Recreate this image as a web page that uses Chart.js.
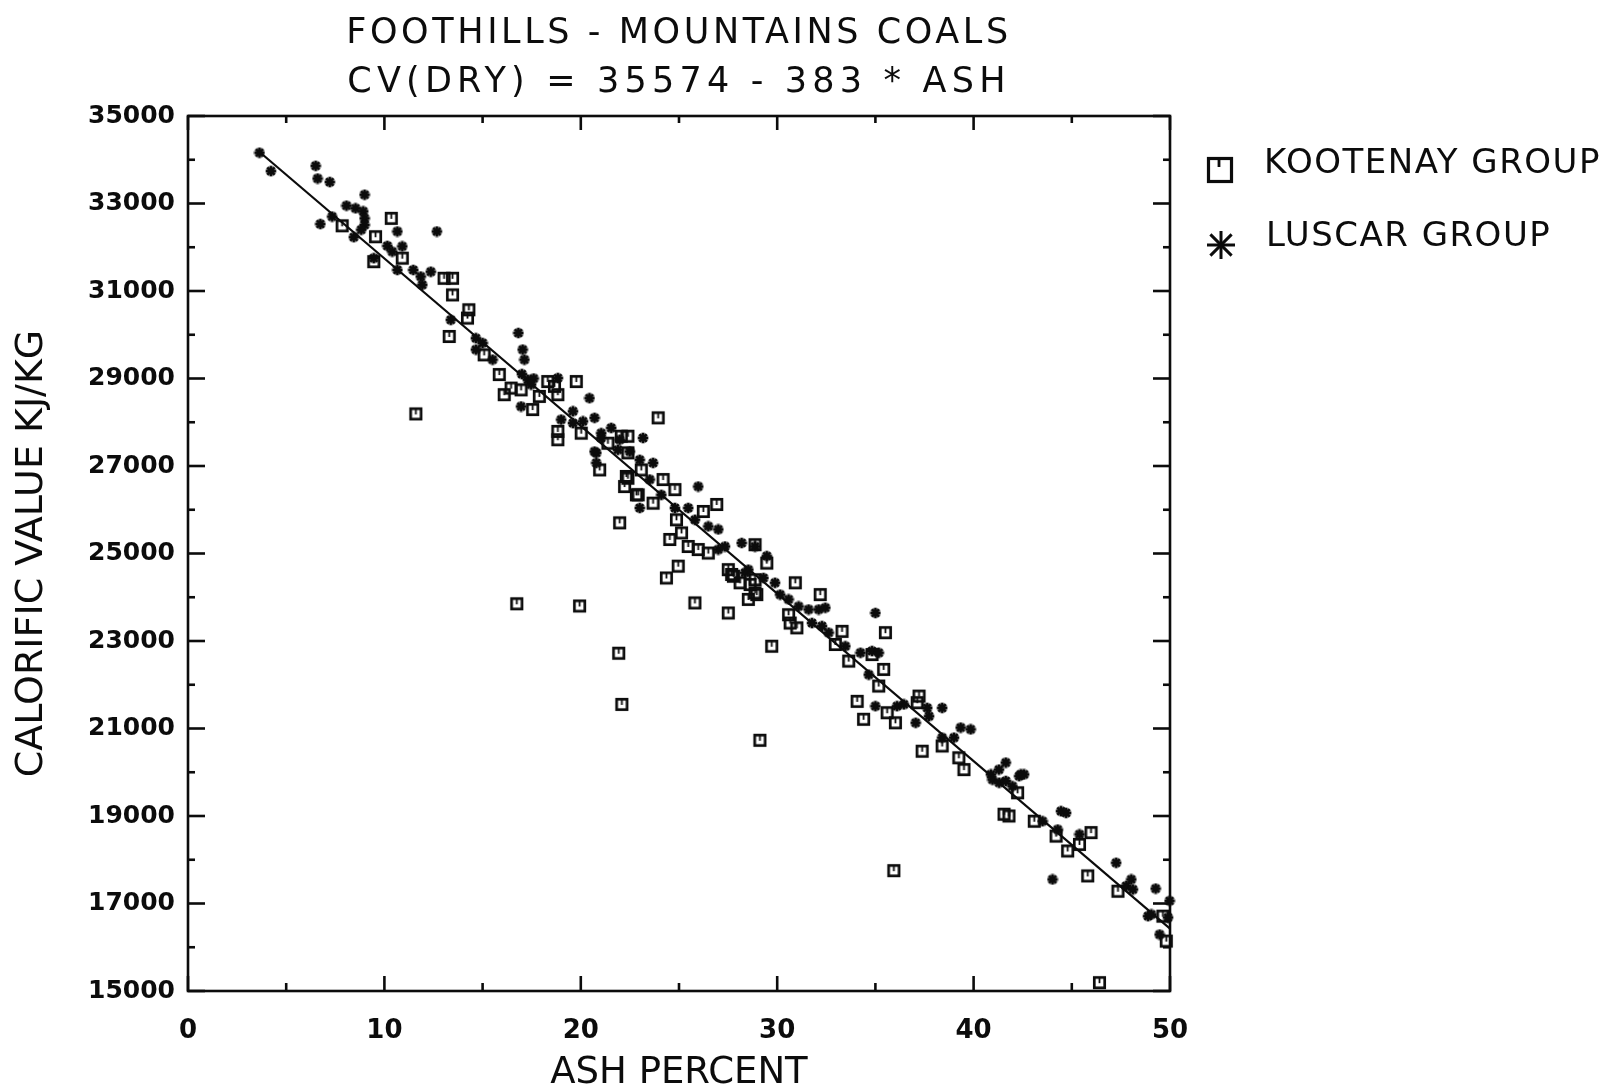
<!DOCTYPE html>
<html>
<head>
<meta charset="utf-8">
<script src="https://cdn.jsdelivr.net/npm/chart.js@4.4.1/dist/chart.umd.min.js"></script>
<style>
html,body{margin:0;padding:0;background:#fff;}
canvas{display:block;}
</style>
</head>
<body>
<canvas id="c" width="1611" height="1089"></canvas>
<script>
// ---------- data ----------
const titleLine1 = 'FOOTHILLS - MOUNTAINS COALS';
const titleLine2 = 'CV(DRY) = 35574 - 383 * ASH';
const xAxisTitle = 'ASH PERCENT';
const yAxisTitle = 'CALORIFIC VALUE KJ/KG';
const seriesNames = ['KOOTENAY GROUP', 'LUSCAR GROUP'];
const xTickLabels = [0, 10, 20, 30, 40, 50];
const xMinorTicks = [5, 15, 25, 35, 45];
const yTickLabels = [15000, 17000, 19000, 21000, 23000, 25000, 27000, 29000, 31000, 33000, 35000];
const yMinorTicks = [16000, 18000, 20000, 22000, 24000, 26000, 28000, 30000, 32000, 34000];

const kootAsh = [7.85,10.35,9.55,10.91,9.46,13.04,13.47,13.47,13.30,14.3,14.23,15.08,15.85,16.96,16.45,16.10,18.32,18.66,18.83,19.77,17.89,17.55,18.83,18.83,20.02,22.06,22.4,21.38,22.4,20.96,22.32,22.83,23.94,22.4,22.23,23.08,24.19,24.79,22.92,23.68,26.92,21.98,26.24,24.87,25.13,24.53,25.47,25.98,26.49,28.87,27.51,24.96,24.36,27.77,28.87,28.87,25.81,29.47,27.68,28.11,28.62,28.53,28.96,30.92,32.19,27.51,30.58,30.66,31.0,33.3,32.96,29.72,35.51,33.64,35.42,34.83,35.17,34.07,34.4,35.6,36.02,37.22,37.13,38.4,37.38,39.25,39.51,42.24,41.55,41.8,43.09,44.2,44.79,45.39,45.98,45.81,47.35,49.64,49.81,46.41,11.6,16.74,19.94,21.93,22.09,29.12,35.94];
const kootCV = [32490,32660,32240,31750,31670,31290,31290,30910,29960,30570,30380,29540,29090,28740,28780,28630,28930,28820,28630,28930,28590,28290,27790,27600,27750,27680,27680,27520,27300,26910,26760,26340,28100,26720,26530,26910,26690,26460,26340,26150,26120,25700,25960,25770,25470,25320,25160,25090,25010,25200,24630,24710,24440,24480,24400,24100,23870,24780,24520,24330,24290,23950,24060,24330,24060,23640,23600,23410,23300,23220,22920,22880,23190,22540,22350,22690,21970,21620,21210,21360,21130,21740,21590,20600,20480,20330,20060,19530,19040,19000,18880,18540,18200,18350,18620,17630,17280,16710,16140,15190,28190,23850,23800,22720,21550,20730,17750];

const luscarAsh = [3.64,4.22,6.50,6.60,7.22,8.99,8.07,8.53,8.92,8.99,8.99,8.82,8.44,7.34,6.74,10.66,12.67,10.15,10.40,10.91,9.46,10.66,11.47,11.85,12.36,11.93,13.38,14.66,15.0,14.66,15.51,16.82,17.04,17.13,17.0,17.30,17.6,17.47,18.83,16.96,20.44,19.6,19.0,19.6,20.11,20.7,21.04,21.55,21.89,20.79,20.79,21.04,21.98,22.49,23.17,20.7,23.0,23.68,23.51,25.98,23.0,24.1,24.79,25.47,25.81,26.49,27.0,27.0,27.34,28.19,29.47,28.53,29.89,28.87,28.36,29.3,30.15,30.58,31.09,31.6,32.11,32.45,31.77,32.28,32.62,33.47,35.0,34.24,34.83,35.17,34.66,35.0,36.1,36.45,37.64,37.73,37.05,38.4,38.4,39.0,39.34,39.85,40.88,41.29,41.64,42.4,40.96,41.3,41.64,41.98,42.32,42.57,43.51,44.45,44.71,44.28,45.39,44.02,47.26,47.77,48.03,48.11,49.27,49.98,48.88,49.05,49.9,49.47];
const luscarCV = [34160,33740,33860,33570,33490,33200,32950,32890,32820,32660,32510,32400,32230,32700,32530,32360,32360,32030,31900,32020,31750,31480,31480,31330,31440,31140,30340,29920,29810,29660,29430,30040,29660,29430,29100,28970,29000,28860,29010,28360,28550,28250,28060,27980,28020,28100,27750,27870,27370,27300,27070,27640,27600,27330,27640,27330,27140,27070,26690,26530,26040,26340,26040,26040,25770,25620,25550,25090,25160,25240,24940,24630,24330,25160,24560,24440,24060,23950,23790,23720,23720,23760,23410,23340,23190,22880,23640,22730,22770,22730,22230,21510,21510,21550,21470,21280,21130,21470,20790,20790,21020,20980,19950,20060,20220,19950,19830,19760,19800,19680,19910,19950,18880,19110,19070,18690,18580,17550,17930,17400,17550,17320,17340,17060,16710,16750,16680,16290];

const fitAsh = [3.6, 50];
const fitCV = [34195, 16424];

// ---------- styles ----------
const FONT = "'DejaVu Sans', 'Liberation Sans', sans-serif";
const INK = '#0c0c0c';

function makeKootMarker() {
  const c = document.createElement('canvas');
  c.width = 15; c.height = 15;
  const g = c.getContext('2d');
  g.strokeStyle = INK; g.lineWidth = 2.7;
  g.strokeRect(2.3, 2.3, 10.4, 10.4);
  g.lineWidth = 1.8;
  g.beginPath(); g.moveTo(7.5, 3); g.lineTo(7.5, 8); g.stroke();
  return c;
}
function makeLuscarMarker() {
  const c = document.createElement('canvas');
  c.width = 12; c.height = 12;
  const g = c.getContext('2d');
  g.strokeStyle = INK; g.lineWidth = 3; g.lineCap = 'square';
  const cx = 6, cy = 6, r = 3.8;
  for (let k = 0; k < 4; k++) {
    const a = k * Math.PI / 4;
    g.beginPath();
    g.moveTo(cx - r * Math.cos(a), cy - r * Math.sin(a));
    g.lineTo(cx + r * Math.cos(a), cy + r * Math.sin(a));
    g.stroke();
  }
  return c;
}

const kootPts = kootAsh.map((a, i) => ({x: a, y: kootCV[i]}));
const luscarPts = luscarAsh.map((a, i) => ({x: a, y: luscarCV[i]}));
const fitPts = fitAsh.map((a, i) => ({x: a, y: fitCV[i]}));

// frame + inward ticks, using the chart's scales
const frameTicks = {
  id: 'frameTicks',
  beforeDatasetsDraw(chart) {
    const {ctx, chartArea: a, scales: {x, y}} = chart;
    ctx.save();
    ctx.strokeStyle = INK;
    ctx.lineWidth = 2.6;
    ctx.strokeRect(a.left, a.top, a.right - a.left, a.bottom - a.top);
    const seg = (x1, y1, x2, y2) => { ctx.beginPath(); ctx.moveTo(x1, y1); ctx.lineTo(x2, y2); ctx.stroke(); };
    xTickLabels.forEach(v => { const p = x.getPixelForValue(v); seg(p, a.bottom, p, a.bottom - 15); seg(p, a.top, p, a.top + 14); });
    xMinorTicks.forEach(v => { const p = x.getPixelForValue(v); seg(p, a.bottom, p, a.bottom - 8); seg(p, a.top, p, a.top + 7); });
    yTickLabels.forEach(v => { const p = y.getPixelForValue(v); seg(a.left, p, a.left + 17, p); seg(a.right, p, a.right - 17, p); });
    yMinorTicks.forEach(v => { const p = y.getPixelForValue(v); seg(a.left, p, a.left + 7, p); seg(a.right, p, a.right - 7, p); });
    ctx.restore();
  }
};

// letter spacing for the title and subtitle blocks
function spaceBox(chart, box, spacing) {
  if (!box || box._spaced) return;
  const orig = box.draw.bind(box);
  box.draw = function (area) {
    const ctx = chart.ctx;
    ctx.save();
    try { ctx.letterSpacing = spacing; } catch (e) {}
    orig(area);
    ctx.restore();
  };
  box._spaced = true;
}
const titleSpacing = {
  id: 'titleSpacing',
  beforeDraw(chart) {
    (chart.boxes || []).forEach(b => {
      if (b && b.options && b.options.text === titleLine1) spaceBox(chart, b, '3.6px');
      else if (b && b.options && b.options.text === titleLine2) spaceBox(chart, b, '5.2px');
    });
  }
};

// legend drawn beside the plot
const sideLegend = {
  id: 'sideLegend',
  afterDraw(chart) {
    const {ctx, chartArea: a} = chart;
    const x0 = a.right;
    const y0 = a.top;
    ctx.save();
    ctx.strokeStyle = INK;
    ctx.fillStyle = INK;
    // Kootenay marker: open square with a tick
    const kx = x0 + 50, ky = y0 + 54;
    ctx.lineWidth = 3.2;
    ctx.strokeRect(kx - 11.5, ky - 11.5, 23, 23);
    ctx.lineWidth = 2.8;
    ctx.beginPath(); ctx.moveTo(kx - 1, ky - 11); ctx.lineTo(kx - 1, ky - 3); ctx.stroke();
    // Luscar marker: asterisk
    const lx = x0 + 51, ly = y0 + 129;
    ctx.lineWidth = 3;
    [[0, 14], [Math.PI / 4, 15], [-Math.PI / 4, 15], [Math.PI / 2, 14]].forEach(([ang, r]) => {
      ctx.beginPath();
      ctx.moveTo(lx - r * Math.cos(ang), ly - r * Math.sin(ang));
      ctx.lineTo(lx + r * Math.cos(ang), ly + r * Math.sin(ang));
      ctx.stroke();
    });
    ctx.font = '34px ' + FONT;
    try { ctx.letterSpacing = '1.5px'; } catch (e) {}
    ctx.textAlign = 'left';
    ctx.textBaseline = 'middle';
    ctx.fillText(seriesNames[0], x0 + 94, y0 + 48);
    ctx.fillText(seriesNames[1], x0 + 96, y0 + 121);
    ctx.restore();
  }
};

new Chart(document.getElementById('c'), {
  type: 'scatter',
  data: {
    datasets: [
      {label: seriesNames[0], data: kootPts, pointStyle: makeKootMarker(), pointRadius: 6, clip: false, order: 2},
      {label: seriesNames[1], data: luscarPts, pointStyle: makeLuscarMarker(), pointRadius: 5, clip: false, order: 1},
      {label: 'fit', type: 'line', data: fitPts, borderColor: INK, borderWidth: 2.2, pointRadius: 0, fill: false, clip: false, order: 3}
    ]
  },
  options: {
    responsive: false,
    animation: false,
    events: [],
    layout: {padding: {left: 0, right: 441, top: 0, bottom: 0}},
    plugins: {
      legend: {display: false},
      tooltip: {enabled: false},
      title: {
        display: true, text: titleLine1, fullSize: false, color: INK,
        font: {family: FONT, size: 35, weight: 'normal', lineHeight: 1.4},
        padding: {top: 9, bottom: 0}
      },
      subtitle: {
        display: true, text: titleLine2, fullSize: false, color: INK,
        font: {family: FONT, size: 35, weight: 'normal', lineHeight: 1.4},
        padding: {top: 0, bottom: 9}
      }
    },
    scales: {
      x: {
        type: 'linear', position: 'bottom', min: 0, max: 50,
        afterBuildTicks: s => { s.ticks = xTickLabels.map(v => ({value: v})); },
        afterFit: s => { s.height = 98; },
        ticks: {color: INK, padding: 17, autoSkip: false, maxRotation: 0,
                font: {family: FONT, size: 26, weight: 'bold'}, callback: v => String(v)},
        grid: {display: false},
        border: {display: false},
        title: {display: true, text: xAxisTitle, color: INK,
                font: {family: FONT, size: 37, weight: 'normal'}, padding: {top: 0, bottom: -7}}
      },
      y: {
        type: 'linear', position: 'left', min: 15000, max: 35000,
        afterBuildTicks: s => { s.ticks = yTickLabels.map(v => ({value: v})); },
        afterFit: s => { s.width = 188; },
        ticks: {color: INK, padding: 5, autoSkip: false,
                font: {family: FONT, size: 25, weight: 'bold'}, callback: v => String(v)},
        grid: {display: false},
        border: {display: false},
        title: {display: true, text: yAxisTitle, color: INK,
                font: {family: FONT, size: 38, weight: 'normal'}, padding: {top: 9, bottom: 0}}
      }
    }
  },
  plugins: [frameTicks, titleSpacing, sideLegend]
});
</script>
</body>
</html>
